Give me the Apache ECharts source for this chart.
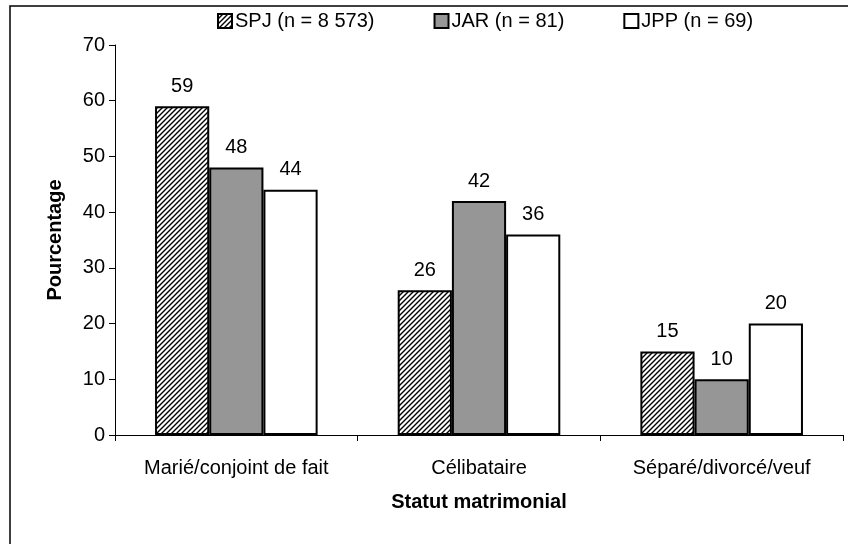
<!DOCTYPE html>
<html>
<head>
<meta charset="utf-8">
<script src="https://cdn.jsdelivr.net/npm/echarts@6/dist/echarts.min.js"></script>
<style>
  html, body { margin: 0; padding: 0; background: #fff; }
  #chart { width: 848px; height: 544px; }
</style>
</head>
<body>
<div id="chart"></div>
<script>
// données du graphique
var categories = ['Marié/conjoint de fait', 'Célibataire', 'Séparé/divorcé/veuf']
var seriesNames = ['SPJ (n = 8 573)', 'JAR (n = 81)', 'JPP (n = 69)']
var spjValues = [59, 26, 15]
var jarValues = [48, 42, 10]
var jppValues = [44, 36, 20]

// motif hachuré pour SPJ
function makeHatch() {
  var c = document.createElement('canvas')
  c.width = 5
  c.height = 5
  var ctx = c.getContext('2d')
  ctx.fillStyle = '#fff'
  ctx.fillRect(0, 0, 5, 5)
  ctx.strokeStyle = '#000'
  ctx.lineWidth = 1.4
  ctx.beginPath()
  ctx.moveTo(-1, 6); ctx.lineTo(6, -1)
  ctx.moveTo(-1, 1); ctx.lineTo(1, -1)
  ctx.moveTo(4, 6); ctx.lineTo(6, 4)
  ctx.stroke()
  return c
}
var hatch = { image: makeHatch(), repeat: 'repeat' }

var chart = echarts.init(document.getElementById('chart'))

var labelStyle = {
  show: true,
  position: 'top',
  distance: 10,
  color: '#000',
  fontFamily: 'Liberation Sans',
  fontSize: 20
}

function barSeries(name, data, fill) {
  return {
    name: name,
    type: 'bar',
    data: data,
    barGap: '0%',
    barCategoryGap: '33%',
    label: labelStyle,
    itemStyle: {
      color: fill,
      borderColor: '#000',
      borderWidth: 2
    }
  }
}

chart.setOption({
  animation: false,
  textStyle: { fontFamily: 'Liberation Sans' },
  graphic: [{
    type: 'rect',
    shape: { x: 10, y: 6, width: 900, height: 600 },
    style: { fill: 'none', stroke: '#000', lineWidth: 1.5 }
  }],
  legend: {
    top: 6,
    left: 212,
    itemWidth: 14,
    itemHeight: 14,
    itemGap: 59,
    icon: 'rect',
    textStyle: { fontSize: 20, color: '#000', padding: [0, 0, 0, -2] },
    data: seriesNames
  },
  grid: {
    left: 115,
    right: 5,
    top: 45,
    bottom: 109
  },
  xAxis: {
    type: 'category',
    data: categories,
    name: 'Statut matrimonial',
    nameLocation: 'middle',
    nameGap: 57,
    nameTextStyle: { fontSize: 20, fontWeight: 'bold', color: '#000' },
    axisLine: { lineStyle: { color: '#000', width: 1 } },
    axisTick: { show: true, length: 6, lineStyle: { color: '#000' } },
    axisLabel: { fontSize: 20, color: '#000', margin: 23 }
  },
  yAxis: {
    type: 'value',
    min: 0,
    max: 70,
    interval: 10,
    name: 'Pourcentage',
    nameLocation: 'middle',
    nameGap: 50,
    nameTextStyle: { fontSize: 20, fontWeight: 'bold', color: '#000' },
    axisLine: { show: true, lineStyle: { color: '#000', width: 1 } },
    axisTick: { show: true, length: 6, lineStyle: { color: '#000' } },
    axisLabel: { fontSize: 20, color: '#000', margin: 10 },
    splitLine: { show: false }
  },
  series: [
    barSeries(seriesNames[0], spjValues, hatch),
    barSeries(seriesNames[1], jarValues, '#969696'),
    barSeries(seriesNames[2], jppValues, '#fff')
  ]
})
</script>
</body>
</html>
